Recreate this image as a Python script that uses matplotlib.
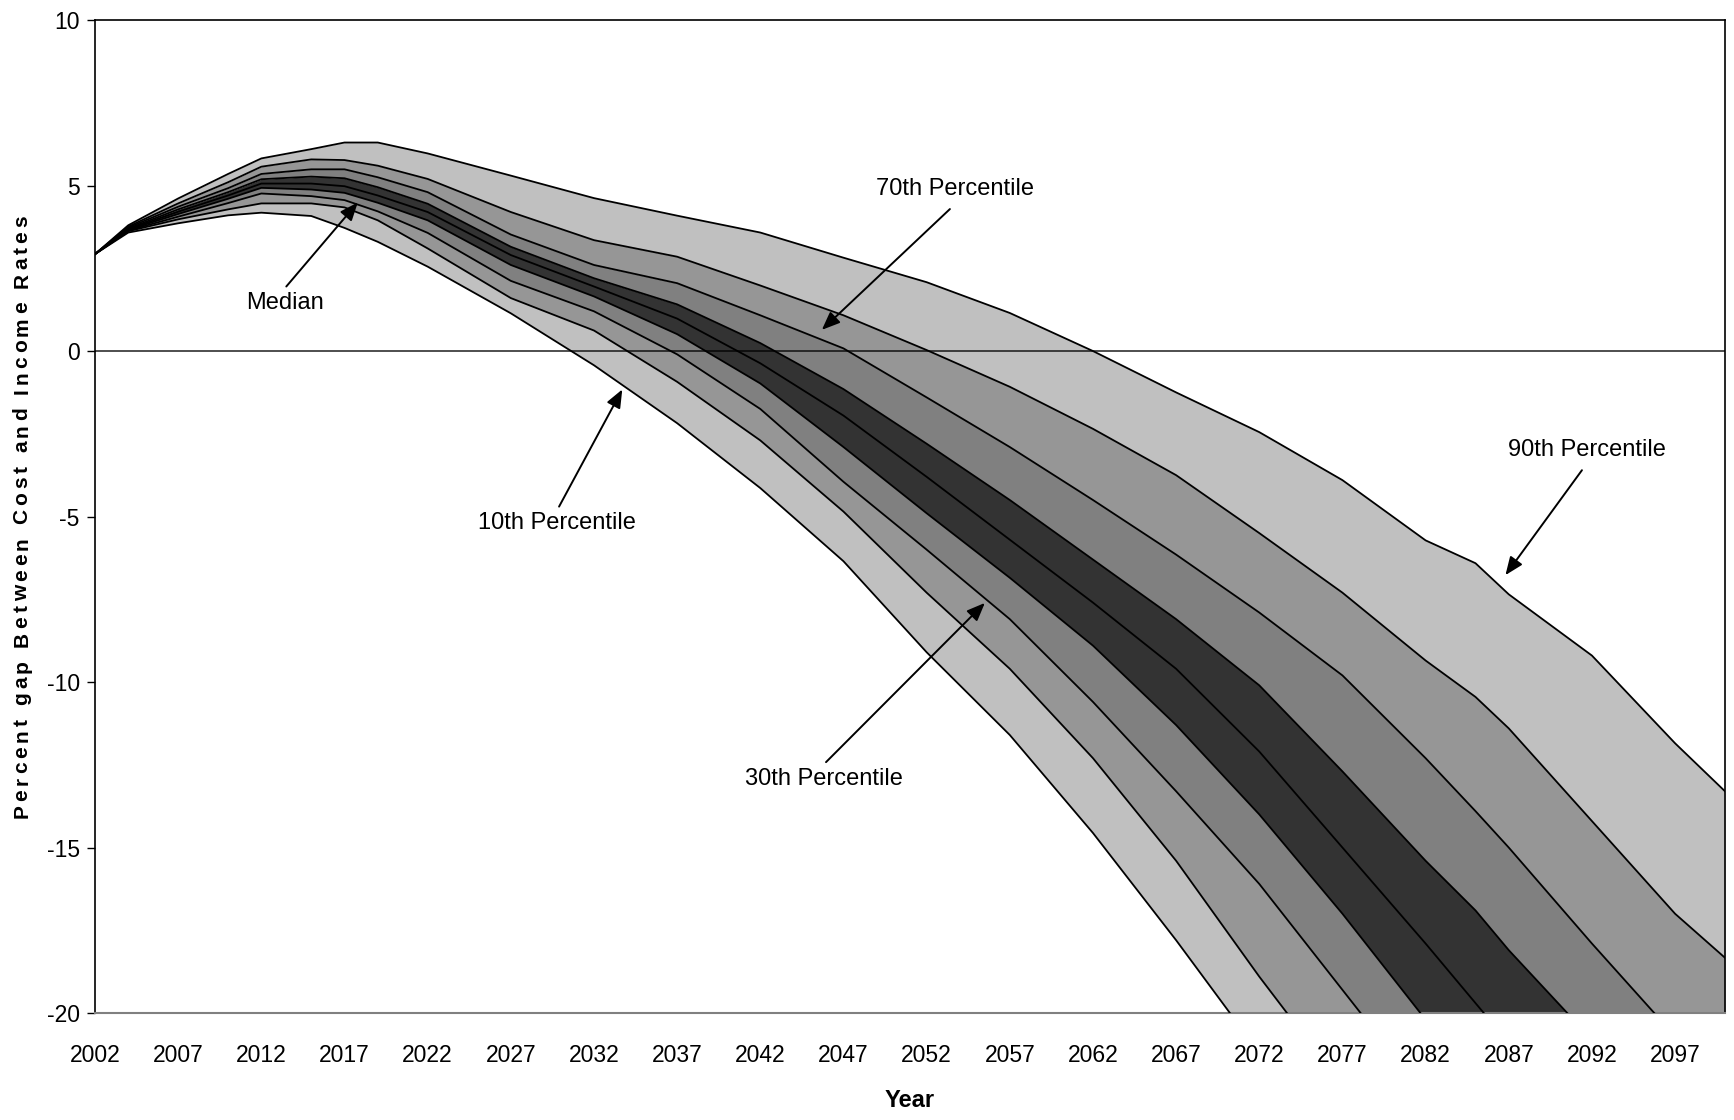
import matplotlib
matplotlib.use("Agg")
import matplotlib.pyplot as plt
from matplotlib import font_manager

# percentile paths of the gap between cost and income rates
years = [2002, 2004, 2007, 2010, 2012, 2015, 2017, 2019, 2022, 2027, 2032, 2037, 2042,
         2047, 2052, 2057, 2062, 2067, 2072, 2077, 2082, 2085, 2087, 2092, 2097, 2100]

p90 = [2.93, 3.80, 4.61, 5.35, 5.82, 6.10, 6.30, 6.30, 5.97, 5.30, 4.62, 4.09, 3.58,
       2.82, 2.08, 1.15, 0.00, -1.25, -2.45, -3.90, -5.72, -6.41, -7.35, -9.20, -11.85, -13.30]
p80 = [2.93, 3.76, 4.46, 5.10, 5.57, 5.79, 5.77, 5.60, 5.20, 4.20, 3.35, 2.85, 1.98,
       1.08, 0.03, -1.08, -2.35, -3.75, -5.50, -7.30, -9.35, -10.45, -11.40, -14.20, -17.00, -18.33]
p70 = [2.93, 3.73, 4.36, 4.92, 5.35, 5.49, 5.49, 5.25, 4.80, 3.52, 2.60, 2.05, 1.08,
       0.08, -1.40, -2.90, -4.50, -6.15, -7.90, -9.80, -12.30, -13.90, -15.00, -17.90, -20.70, -22.40]
p60 = [2.93, 3.70, 4.28, 4.80, 5.19, 5.27, 5.22, 4.95, 4.45, 3.15, 2.20, 1.41, 0.24,
       -1.15, -2.80, -4.50, -6.30, -8.10, -10.10, -12.70, -15.40, -16.90, -18.10, -20.80, -23.50, -25.00]
p50 = [2.93, 3.68, 4.21, 4.70, 5.06, 5.06, 4.98, 4.70, 4.20, 2.90, 1.95, 0.98, -0.37,
       -1.95, -3.80, -5.70, -7.60, -9.60, -12.10, -15.00, -17.90, -19.70, -20.90, -23.80, -26.50, -28.00]
p40 = [2.93, 3.66, 4.14, 4.60, 4.93, 4.88, 4.78, 4.48, 3.95, 2.60, 1.65, 0.51, -0.98,
       -2.90, -4.90, -6.85, -8.90, -11.30, -14.00, -17.00, -20.20, -22.00, -23.20, -26.20, -29.00, -30.50]
p30 = [2.93, 3.64, 4.06, 4.47, 4.76, 4.68, 4.56, 4.22, 3.57, 2.12, 1.20, -0.10, -1.75,
       -3.95, -6.00, -8.10, -10.60, -13.30, -16.10, -19.30, -22.50, -24.40, -25.60, -28.60, -31.50, -33.00]
p20 = [2.93, 3.62, 3.98, 4.28, 4.46, 4.46, 4.34, 3.95, 3.10, 1.60, 0.62, -0.93, -2.70,
       -4.85, -7.30, -9.60, -12.30, -15.40, -18.90, -22.20, -25.50, -27.50, -28.80, -32.00, -35.00, -36.80]
p10 = [2.93, 3.58, 3.86, 4.10, 4.18, 4.08, 3.72, 3.30, 2.55, 1.14, -0.43, -2.18, -4.14,
       -6.35, -9.10, -11.60, -14.56, -17.80, -21.20, -24.60, -28.00, -30.00, -31.40, -34.80, -38.00, -40.00]

paths = [p10, p20, p30, p40, p50, p60, p70, p80, p90]
band_colors = ["#c0c0c0", "#969696", "#808080", "#333333",
               "#333333", "#808080", "#969696", "#c0c0c0"]

installed = {f.name for f in font_manager.fontManager.ttflist}
narrow = ["Liberation Sans Narrow"] if "Liberation Sans Narrow" in installed else []
narrow += ["Liberation Sans", "DejaVu Sans"]

plt.rcParams["axes.unicode_minus"] = False

fig = plt.figure(figsize=(17.34, 11.2), dpi=100)
ax = fig.add_axes([0.0548, 0.0955, 0.94, 0.8866])

# shaded bands between neighbouring percentiles
for lo, hi, c in zip(paths[:-1], paths[1:], band_colors):
    ax.fill_between(years, lo, hi, color=c, linewidth=0, zorder=1)
for p in paths:
    ax.plot(years, p, color="black", linewidth=1.3, zorder=3)

ax.axhline(0, color="black", linewidth=1.3, alpha=0.75, zorder=4)

ax.set_xlim(2002, 2100)
ax.set_ylim(-20, 10)
ax.set_xticks(range(2002, 2100, 5))
ax.set_yticks([-20, -15, -10, -5, 0, 5, 10])
ax.tick_params(axis="x", length=0, pad=22, labelsize=16.5)
ax.tick_params(axis="y", length=6, width=1, direction="out", pad=5, labelsize=16.5)
for lab in ax.get_xticklabels() + ax.get_yticklabels():
    lab.set_family(narrow)

for side in ["top", "right", "left"]:
    ax.spines[side].set_color("black")
    ax.spines[side].set_linewidth(1.2)
ax.spines["bottom"].set_color("#808080")
ax.spines["bottom"].set_linewidth(1.5)

ax.set_xlabel("Year", fontsize=17, fontweight="bold", family=narrow, labelpad=16)

# letter-spaced vertical axis title, placed character by character
ylab = "Percent gap Between Cost and Income Rates"
yfont = dict(fontsize=15, fontweight="bold", family=["Liberation Sans", "DejaVu Sans"])
renderer = fig.canvas.get_renderer()


def char_width(ch):
    if ch == " ":
        a = fig.text(0, 0, "n n", **yfont)
        b = fig.text(0, 0, "nn", **yfont)
        w = a.get_window_extent(renderer).width - b.get_window_extent(renderer).width
        a.remove()
        b.remove()
        return w
    t = fig.text(0, 0, ch, **yfont)
    w = t.get_window_extent(renderer).width
    t.remove()
    return w


widths = [char_width(ch) for ch in ylab]
target = 603.0  # total length in pixels
gap = (target - sum(widths)) / (len(ylab) - 1)
fig_h = fig.get_figheight() * fig.dpi
y_center = (1120 - 517) / 1120 * fig_h
pos = y_center - target / 2
for ch, w in zip(ylab, widths):
    if ch != " ":
        fig.text(22 / 1734, (pos + w / 2) / fig_h, ch, rotation=90,
                 ha="center", va="center", **yfont)
    pos += w + gap

arrow = dict(arrowstyle="-|>,head_length=1.1,head_width=0.45", color="black",
             linewidth=1.4, shrinkA=0, shrinkB=0)
notes = [
    ("Median", (2017.8, 4.49), (2013.4, 1.45)),
    ("10th Percentile", (2033.7, -1.16), (2029.8, -5.2)),
    ("70th Percentile", (2045.7, 0.64), (2053.7, 4.89)),
    ("30th Percentile", (2055.5, -7.61), (2045.85, -12.92)),
    ("90th Percentile", (2086.8, -6.77), (2091.7, -3.0)),
]
for txt, tip, xy in notes:
    ax.text(xy[0], xy[1], txt, ha="center", va="center", fontsize=17,
            family=narrow, zorder=6)
    tail_y = xy[1] + 0.5 if tip[1] > xy[1] else xy[1] - 0.6
    ax.annotate("", xy=tip, xytext=(xy[0] + (0.1 if tip[0] > xy[0] else -0.3), tail_y),
                arrowprops=arrow, zorder=6)

fig.savefig("out.png", dpi=100)
